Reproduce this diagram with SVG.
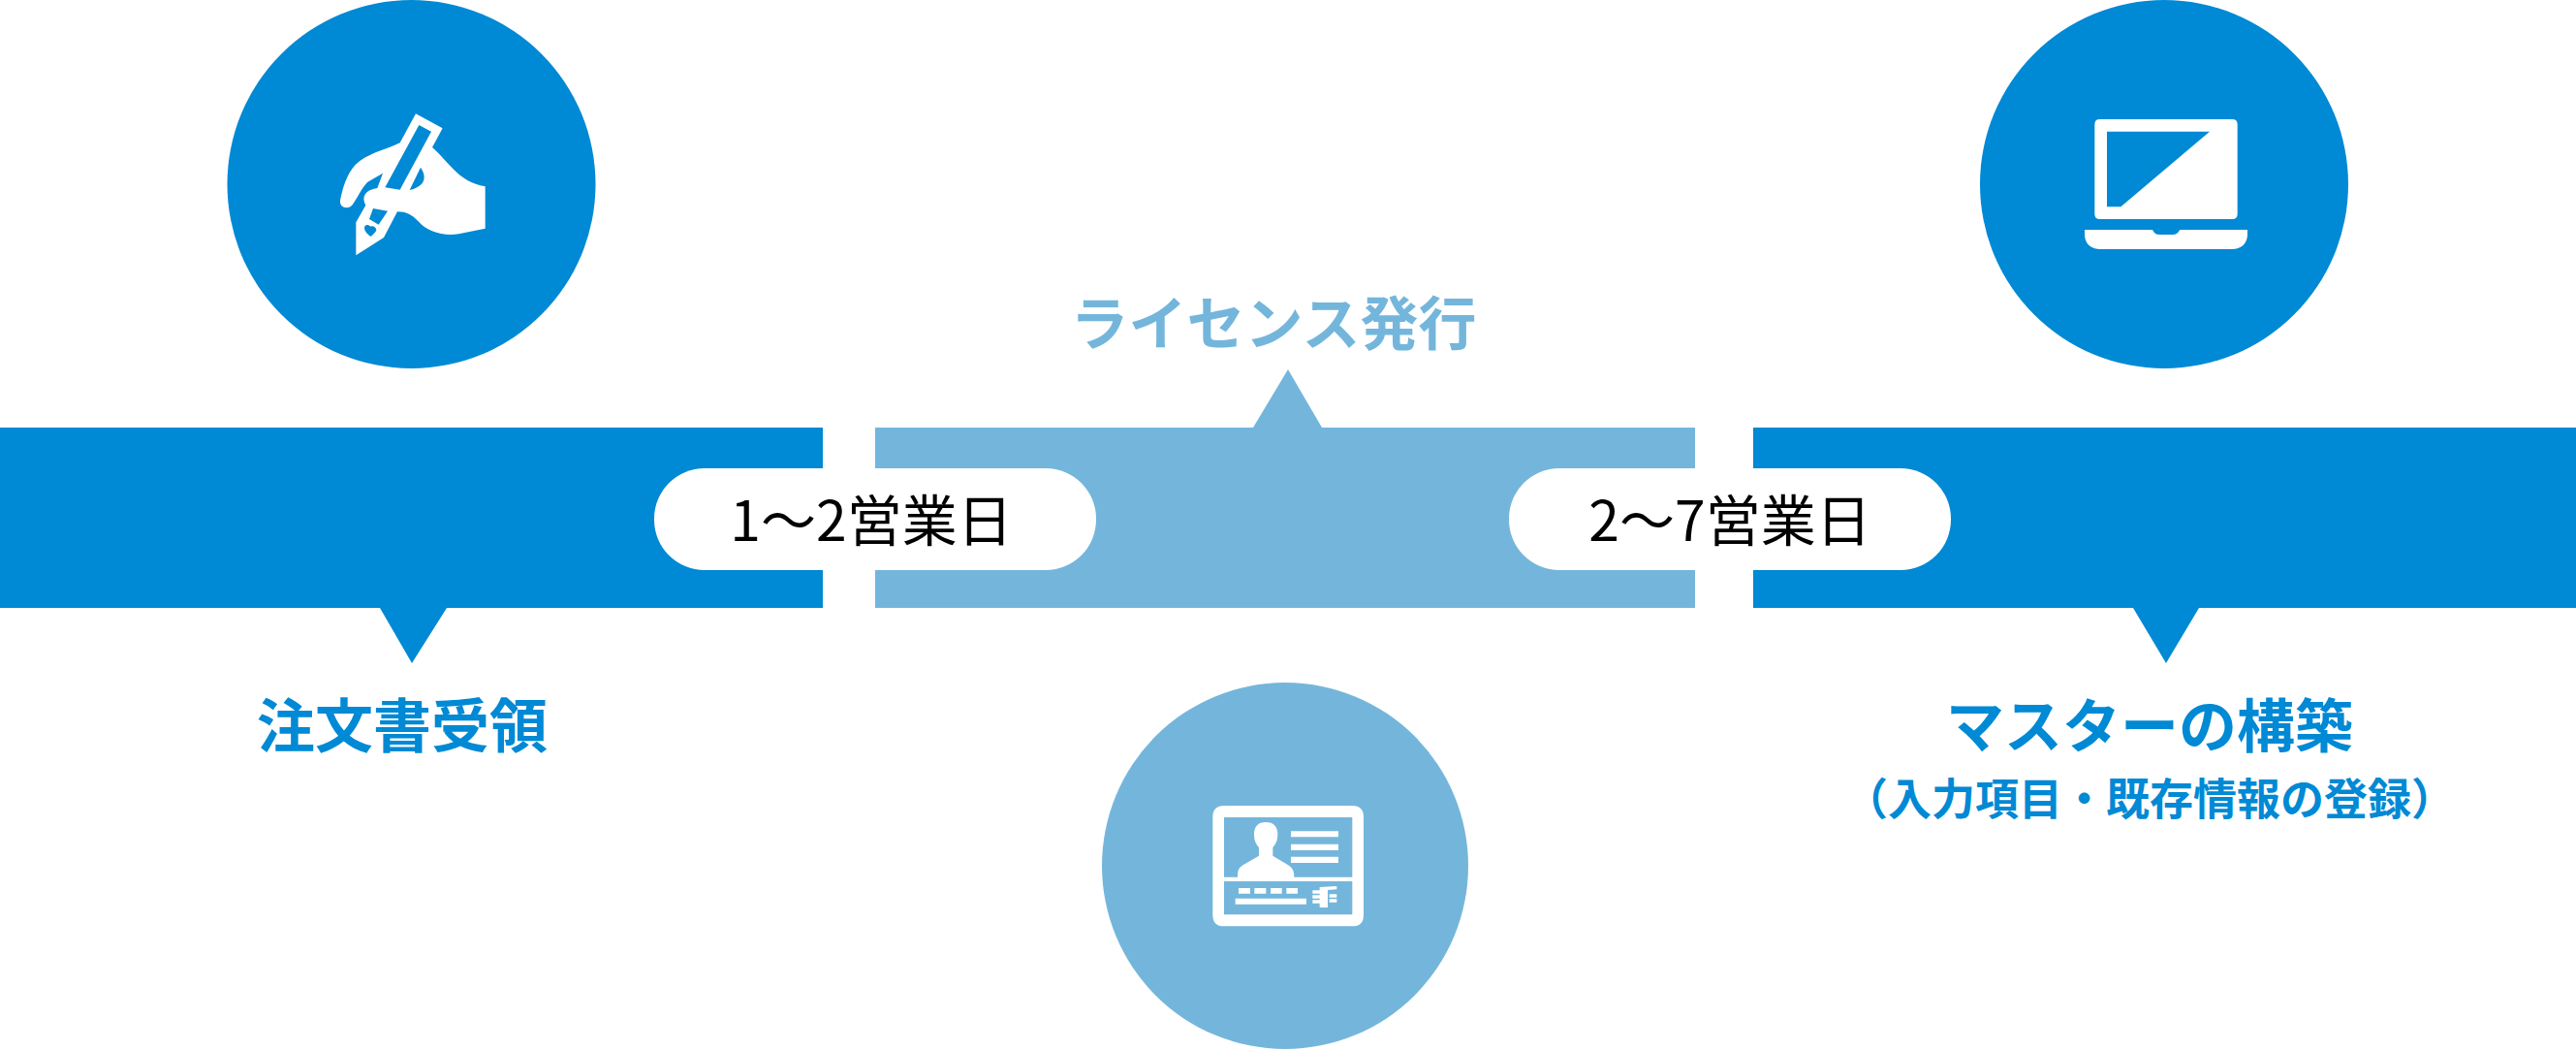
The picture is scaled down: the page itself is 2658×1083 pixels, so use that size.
<svg xmlns="http://www.w3.org/2000/svg" width="2658" height="1083" viewBox="0 0 2658 1083">
<style>
.d{fill:#0089d4}.l{fill:#74b6db}.w{fill:#fff}
text{font-family:"Noto Sans CJK JP","Noto Sans",sans-serif;text-anchor:middle}
.h{font-size:60px;font-weight:700}
.s{font-size:45px;font-weight:700}
.p{font-size:57px;fill:#000}
</style>
<rect width="2658" height="1083" class="w"/>
<g id="connectors">
<path class="d" d="M0,441H849V627H461L425,684L392,627H0Z"/>
<path class="l" d="M903,441H1293L1329,381L1364,441H1749V627H903Z"/>
<path class="d" d="M1809,441H2658V627H2269L2235,684L2201,627H1809Z"/>
</g>
<g id="pill-1"><rect class="w" x="675" y="483" width="456" height="105" rx="52"/><text class="p" x="899" y="558">1～2営業日</text></g>
<g id="pill-2"><rect class="w" x="1557" y="483" width="456" height="105" rx="52"/><text class="p" x="1785" y="558">2～7営業日</text></g>
<g id="node-order">
<circle class="d" cx="424.500" cy="190" r="190"/>
<g transform="translate(300 90) scale(.33333)">
<path class="w" d="M338,172C290,195 235,205 200,240C172,270 160,315 153,350C150,375 180,380 192,362C205,345 220,310 238,293L285,266L268,312C225,318 220,345 232,365L202,418V520L288,465L330,385C360,385 375,395 395,415C420,445 470,462 520,454L602,437V307C560,300 530,280 505,255C485,235 460,205 438,186L470,127L387,82Z"/>
<path class="d" d="M397,117L435,137L338,317L292,310Z"/>
<path class="d" d="M402,248C420,275 420,305 368,318L402,248Z"/>
<path class="d" d="M255,375L300,383L272,425L243,408Z"/>
<path class="d" d="M247,462C238,455 228,445 228,435C228,425 240,423 247,431C254,427 265,433 265,442C262,450 255,456 247,462Z"/>
</g>
<text class="h d" x="415" y="771">注文書受領</text>
</g>
<g id="node-license">
<circle class="l" cx="1326" cy="893" r="189"/>
<g transform="translate(1230 810) scale(.33333)">
<path class="w" fill-rule="evenodd" d="M99,63H496Q531,63 531,98V401Q531,436 496,436H99Q64,436 64,401V98Q64,63 99,63ZM99,99V284H141C141,260 145,255 160,245L207,218V192C197,182 192,170 192,150C192,128 205,114 228,114C252,114 265,128 265,150C265,170 260,182 250,192V218L295,245C312,255 316,265 316,284H496V99ZM99,297V400H496V297Z"/>
<path class="w" d="M306,142H453V160H306ZM306,182H453V201H306ZM306,221H453V240H306ZM144,318H180V335H144ZM193,318H229V335H193ZM243,318H278V335H243ZM292,318H327V335H292ZM134,350H354V368H134ZM373,325H395V315L448,312V322L420,324V378H395V365H373V355H395V350H373V340H395V335H373ZM425,337H448V347H425ZM425,352H448V362H425Z"/>
</g>
<text class="h l" x="1314" y="356">ライセンス発行</text>
</g>
<g id="node-master">
<circle class="d" cx="2233" cy="190" r="190"/>
<g transform="translate(2120 100) scale(.33333)">
<path class="w" fill-rule="evenodd" d="M140,69H550Q566,69 566,85V362Q566,378 550,378H140Q124,378 124,362V85Q124,69 140,69ZM162,107V340H205L480,107Z"/>
<path class="w" d="M93,411H303C308,422 315,426 325,426H365C375,426 382,422 388,411H597V425C597,455 575,471 550,471H140C115,471 93,455 93,425Z"/>
</g>
<text class="h d" x="2218" y="771">マスターの構築</text>
<text class="s d" x="2218" y="841">（入力項目・既存情報の登録）</text>
</g>
</svg>
